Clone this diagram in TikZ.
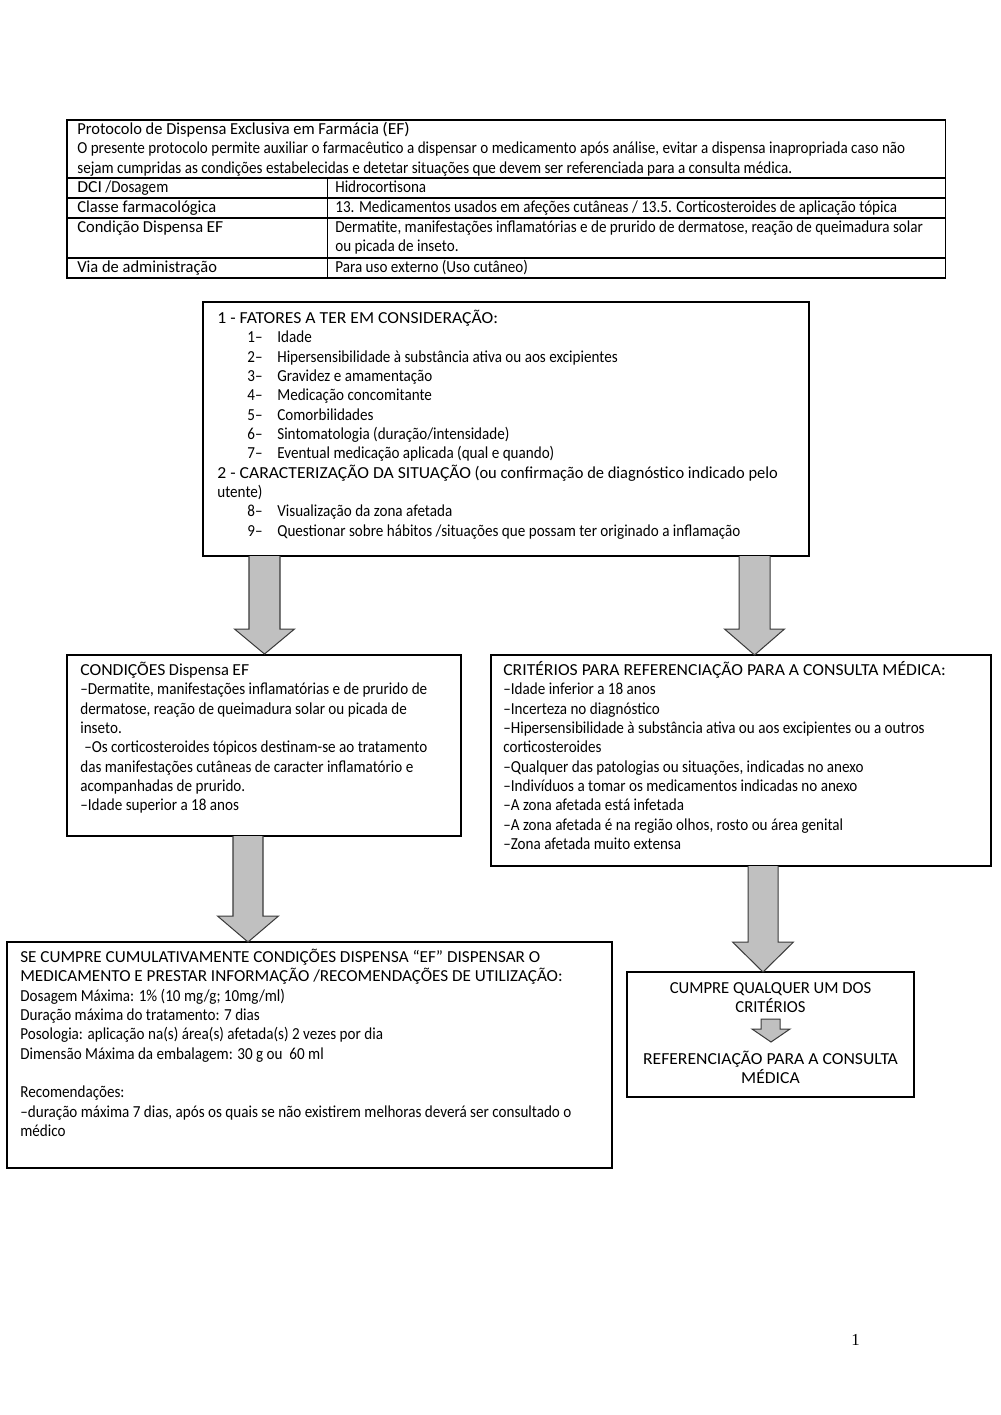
\documentclass[tikz,border=0pt]{standalone}
\usepackage{fontspec}
\setmainfont{Carlito}[FakeStretch=0.9]
\newfontfamily\capsfont{Carlito}[FakeStretch=1.05]
\newfontfamily\capsbfont{Carlito}[FakeStretch=1.02]
\newfontfamily\capscfont{Carlito}[FakeStretch=0.99]
\newfontfamily\midfont{Carlito}[FakeStretch=0.98]
\newfontfamily\pagenumfont{Liberation Serif}
\usetikzlibrary{fit}
\newlength\pxu
\setlength\pxu{0.595pt}
\newcommand\fs{\fontsize{10pt}{11.5pt}\selectfont}
\newcommand\cp[1]{{\capsfont #1}}
\newcommand\cpb[1]{{\capsbfont #1}}
\newcommand\md[1]{{\midfont #1}}
\newcommand\tx[1]{\parbox[t]{900pt}{\fs #1}}
\newcommand\itm[2]{\hspace*{30\pxu}\makebox[30\pxu][l]{#1}#2}
\newcommand\barrow[6]{% centre x, top y, tip y, half shaft, half head, head length
  \filldraw[arrowfill] (#1-#4,#2) -- (#1-#4,#3-#6) -- (#1-#5,#3-#6) -- (#1,#3)
    -- (#1+#5,#3-#6) -- (#1+#4,#3-#6) -- (#1+#4,#2);}
\definecolor{arrgray}{HTML}{C0C0C0}
\definecolor{arrline}{HTML}{3A3A3A}
\tikzset{
  box/.style={draw=black, line width=0.7pt, inner sep=0pt},
  txt/.style={anchor=base west, inner sep=0pt},
  ctxt/.style={anchor=base, inner sep=0pt},
  tline/.style={draw=black, line width=0.6pt},
  arrowfill/.style={fill=arrgray, draw=arrline, line width=0.6pt, line join=miter},
}
\begin{document}
\begin{tikzpicture}[x=0.595pt, y=-0.595pt]
\useasboundingbox[fill=white] (0,0) rectangle (1000,1415);

% ---------- table ----------
\draw[tline] (67,120) rectangle (945,278);
\draw[tline] (67,178) -- (945,178);
\draw[tline] (67,198) -- (945,198);
\draw[tline] (67,218) -- (945,218);
\draw[tline] (67,258) -- (945,258);
\draw[tline] (327,178) -- (327,278);
\node[txt] (th) at (77,134.5) {\tx{\md{Protocolo de Dispensa Exclusiva em Farmácia} \cp{(EF)}\\
O presente protocolo permite auxiliar o farmacêutico a dispensar o medicamento após análise, evitar a dispensa inapropriada caso não\\
sejam cumpridas as condições estabelecidas e detetar situações que devem ser referenciada para a consulta médica.}};
\node[txt] (r1a) at (77,192.5) {\tx{\cp{DCI} /Dosagem}};
\node[txt] (r1b) at (335,192.5) {\tx{Hidrocortisona}};
\node[txt] (r2a) at (77,212.5) {\tx{\md{Classe farmacológica}}};
\node[txt] (r2b) at (335,212.5) {\tx{13. Medicamentos usados em afeções cutâneas / 13.5. Corticosteroides de aplicação tópica}};
\node[txt] (r3a) at (77,232.5) {\tx{\md{Condição Dispensa} \cp{EF}}};
\node[txt] (r3b) at (335,232.5) {\tx{Dermatite, manifestações inflamatórias e de prurido de dermatose, reação de queimadura solar\\ou picada de inseto.}};
\node[txt] (r4a) at (77,272.5) {\tx{\md{Via de administração}}};
\node[txt] (r4b) at (335,272.5) {\tx{Para uso externo (Uso cutâneo)}};

% ---------- boxes ----------
\node[box, fit={(203,302) (809,556)}] (b1) {};
\node[box, fit={(67,655) (461,836)}] (cond) {};
\node[box, fit={(491,655) (991,866)}] (crit) {};
\node[box, fit={(7,942) (612,1168)}] (disp) {};
\node[box, fit={(627,972) (914,1097)}] (ref) {};

\node[txt] (b1t) at (217,323.5) {\tx{\cp{1 - FATORES A TER EM CONSIDERAÇÃO:}\\
\itm{1--}{Idade}\\
\itm{2--}{Hipersensibilidade à substância ativa ou aos excipientes}\\
\itm{3--}{Gravidez e amamentação}\\
\itm{4--}{Medicação concomitante}\\
\itm{5--}{Comorbilidades}\\
\itm{6--}{Sintomatologia (duração/intensidade)}\\
\itm{7--}{Eventual medicação aplicada (qual e quando)}\\
\cp{2 - CARACTERIZAÇÃO DA SITUAÇÃO} \md{(ou confirmação de diagnóstico indicado pelo}\\
utente)\\
\itm{8--}{Visualização da zona afetada}\\
\itm{9--}{Questionar sobre hábitos /situações que possam ter originado a inflamação}}};

\node[txt] (condt) at (80,675.5) {\tx{\cp{CONDIÇÕES} \md{Dispensa} \cp{EF}\\
--Dermatite, manifestações inflamatórias e de prurido de\\
dermatose, reação de queimadura solar ou picada de\\
inseto.\\
\hspace*{4\pxu}--Os corticosteroides tópicos destinam-se ao tratamento\\
das manifestações cutâneas de caracter inflamatório e\\
acompanhadas de prurido.\\
--Idade superior a 18 anos}};

\node[txt] (critt) at (503,675.5) {\tx{\cp{CRITÉRIOS PARA REFERENCIAÇÃO PARA A CONSULTA MÉDICA:}\\
--Idade inferior a 18 anos\\
--Incerteza no diagnóstico\\
--Hipersensibilidade à substância ativa ou aos excipientes ou a outros\\
corticosteroides\\
--Qualquer das patologias ou situações, indicadas no anexo\\
--Indivíduos a tomar os medicamentos indicadas no anexo\\
--A zona afetada está infetada\\
--A zona afetada é na região olhos, rosto ou área genital\\
--Zona afetada muito extensa}};

\node[txt] (dispt) at (20,962.5) {\tx{\cpb{SE CUMPRE CUMULATIVAMENTE CONDIÇÕES DISPENSA “EF” DISPENSAR O}\\
\cpb{MEDICAMENTO E PRESTAR INFORMAÇÃO /RECOMENDAÇÕES DE UTILIZAÇÃO:}\\
Dosagem Máxima: 1\% (10 mg/g; 10mg/ml)\\
Duração máxima do tratamento: 7 dias\\
Posologia: aplicação na(s) área(s) afetada(s) 2 vezes por dia\\
Dimensão Máxima da embalagem: 30 g ou\ \ 60 ml\\
\mbox{}\\
Recomendações:\\
--duração máxima 7 dias, após os quais se não existirem melhoras deverá ser consultado o\\
médico}};

\node[ctxt] (reft1) at (770.5,993.5) {\parbox[t]{280\pxu}{\centering\fs\capscfont CUMPRE QUALQUER UM DOS\\CRITÉRIOS}};
\node[ctxt] (reft2) at (770.5,1064.5) {\parbox[t]{280\pxu}{\centering\fs\capsfont REFERENCIAÇÃO PARA A CONSULTA\\MÉDICA}};

% ---------- block arrows ----------
\barrow{264.5}{556}{654}{15.5}{30}{25}
\barrow{754.5}{556}{655}{15.5}{30}{26}
\barrow{248}{836}{942}{15}{30.5}{26}
\barrow{763}{866}{972}{15}{30.5}{30}
\filldraw[arrowfill] (761,1019) -- (761,1029) -- (752,1029) -- (771,1042) -- (790,1029) -- (780,1029) -- (780,1019) -- cycle;

% page number
\node[txt] (pg) at (851,1345) {\pagenumfont\fontsize{10pt}{12pt}\selectfont 1};
\end{tikzpicture}
\end{document}
